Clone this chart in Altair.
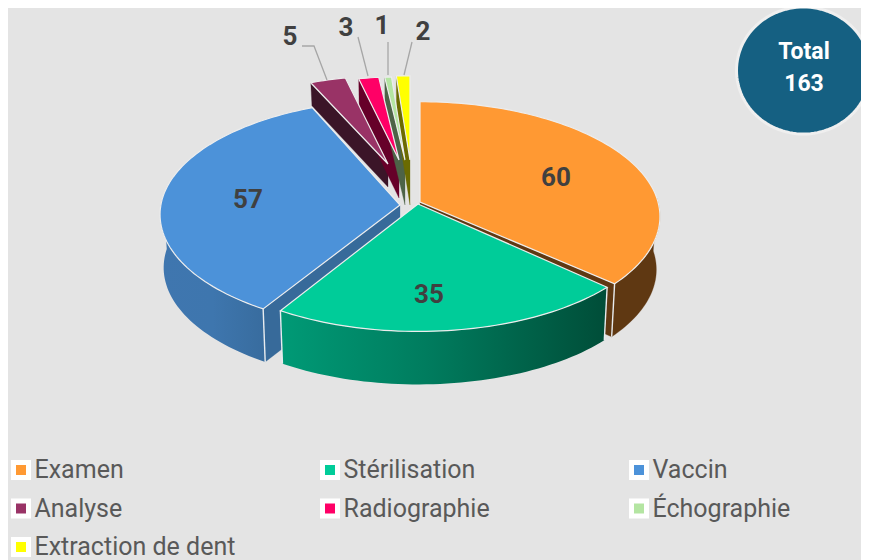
import math
import altair as alt

# ---- data -------------------------------------------------------------
categories = ["Examen", "Stérilisation", "Vaccin", "Analyse", "Radiographie", "Échographie", "Extraction de dent"]
values = [60, 35, 57, 5, 3, 1, 2]
colors = ["#FF9933", "#00CC99", "#4C92D9", "#993366", "#FF0066", "#B4E5A2", "#FFFF00"]
wall_colors = ["#5F3812", None, None, "#3B1528", "#660029", "#4D6347", "#6B6B00"]
total_label = ["Total", "163"]

# ---- layout of the drawing (reference pixels, radius R = 1 unit) -------
R = 238.0
CX, CY = 410.0, 205.0
TILT, PERSP = 113.0 / 238.0, 0.127
centre = [(420, 202), (418, 202), (400, 200), (388, 164), (399, 160), (405, 160), (410, 160)]
tip = [(420, 202), (418, 204), (400, 205), (388, 164), (399, 160), (405, 160), (410, 160)]
scale_k = [1, 1, 1, 0.88, 0.83, 0.83, 0.84]
depth = [53, 53, 53, 23, 38, 45, 45]
nudge = [(0, -1), (1, 1.2), (1, 0), (0, 0), (0, 0), (0, 0), (0, 0)]  # perspective correction, degrees
BOTTOM_SHRINK = 0.985


def un(x, y):
    return [(x - CX) / R, (y - CY) / R]


def rim(i, theta, bottom=False):
    t = math.radians(theta)
    u, v = math.sin(t), -math.cos(t)
    d = 1 - PERSP * v
    k = scale_k[i]
    x, y = R * k * u / d, R * TILT * k * v / d
    ax, ay = centre[i]
    if bottom:
        return un(ax + x * BOTTOM_SHRINK, ay + y + depth[i])
    return un(ax + x, ay + y)


def ap(i, bottom=False):
    ax, ay = tip[i]
    return un(ax, ay + (depth[i] if bottom else 0))


def feature(ring, name=None, kind="Polygon"):
    coords = [ring] if kind == "Polygon" else ring
    return {"type": "Feature", "geometry": {"type": kind, "coordinates": coords}, "properties": {"name": name or ""}}


def sweep(a, b, step=1.5):
    n = max(2, int(abs(b - a) / step) + 1)
    return [a + (b - a) * j / n for j in range(n + 1)]


total = sum(values)
edges = [0.0]
for val in values:
    edges.append(edges[-1] + val / total * 360)
starts = [edges[i] + nudge[i][0] for i in range(len(values))]
ends = [edges[i + 1] + nudge[i][1] for i in range(len(values))]


def top(i):
    ring = [ap(i)] + [rim(i, t) for t in sweep(starts[i], ends[i])] + [ap(i)]
    return feature(ring, categories[i])


def radial(i, theta):
    return feature([ap(i), rim(i, theta), rim(i, theta, True), ap(i, True), ap(i)])


def outer(i, a, b):
    ts = sweep(a, b)
    ring = [rim(i, t) for t in ts] + [rim(i, t, True) for t in reversed(ts)]
    return feature(ring + [ring[0]])


def edge_line(i, theta):
    return feature([rim(i, theta), rim(i, theta, True)], kind="LineString")


BG = "#E4E4E4"


def geo(feats, **mark):
    return alt.Chart(alt.Data(values=feats)).mark_geoshape(**mark).project(
        type="identity", scale=R, translate=[CX - 8, CY - 8])


def grad(stops):
    return alt.Gradient(gradient="linear", stops=[alt.GradientStop(offset=o, color=c) for o, c in stops],
                        x1=0, x2=1, y1=0, y2=0)


layers = []
# small slices' side walls, back to front
for i in (3, 4, 5, 6):
    layers.append(geo([radial(i, starts[i])], fill=wall_colors[i], stroke=wall_colors[i], strokeWidth=0.3))
# Examen
layers.append(geo([outer(0, 88, ends[0]), radial(0, ends[0])], fill=wall_colors[0], stroke=wall_colors[0], strokeWidth=0.3))
# Vaccin
layers.append(geo([radial(2, starts[2])], fill="#376A9A", stroke="#376A9A", strokeWidth=0.3))
layers.append(geo([outer(2, starts[2], 272)],
                  fill=grad([(0, "#3F76AF"), (0.5, "#3E76AE"), (1, "#386C9E")])))
# Stérilisation
layers.append(geo([outer(1, starts[1], ends[1])],
                  fill=grad([(0, "#009A76"), (0.45, "#007C5E"), (1, "#004D38")])))
# corner edges
layers.append(geo([edge_line(0, ends[0]), edge_line(1, starts[1]), edge_line(1, ends[1]), edge_line(2, starts[2])],
                  filled=False, stroke="#E8ECEF", strokeWidth=1.4))

# top faces carry the colour scale and the legend
tops = alt.Chart(alt.Data(values=[top(i) for i in range(len(values))])).mark_geoshape(
    stroke="#EDEDED", strokeWidth=1.2).project(type="identity", scale=R, translate=[CX - 8, CY - 8]).encode(
    color=alt.Color(
        "properties.name:N",
        scale=alt.Scale(domain=categories, range=colors),
        sort=categories,
        legend=alt.Legend(
            title=None, orient="none", legendX=0.5, legendY=449.5, columns=3, direction="horizontal",
            gridAlign="all", columnPadding=77, rowPadding=3.5,
            symbolType="square", symbolSize=225, symbolStrokeColor="#FFFFFF", symbolStrokeWidth=5,
            symbolOpacity=1, labelFont="Roboto", labelFontSize=25, labelColor="#595959",
            labelOffset=1, labelLimit=400, padding=0,
        ),
    )
)
layers.append(tops)

# leader lines
leaders = [
    [(302, 46), (314, 46), (327, 80)],
    [(358, 37), (368, 76)],
    [(388, 42), (388, 75)],
    [(412, 42), (404, 75)],
]
layers.append(geo([feature([un(*p) for p in line], kind="LineString") for line in leaders],
                  filled=False, stroke="#A6A6A6", strokeWidth=1.3))

# value labels
label_pos = [(556, 178), (429, 295), (248, 200), (290, 37), (346, 28), (382, 26), (423, 32)]
label_rows = [{"lon": un(*p)[0], "lat": un(*p)[1], "label": str(v)} for p, v in zip(label_pos, values)]
layers.append(alt.Chart(alt.Data(values=label_rows)).mark_text(
    font="Roboto", fontSize=26, fontWeight="bold", color="#404040", baseline="middle", align="center"
).encode(longitude="lon:Q", latitude="lat:Q", text="label:N").project(
    type="identity", scale=R, translate=[CX - 8, CY - 8]))

# total badge
BX, BY, BRX, BRY = 803.5, 70.5, 67.0, 63.5
badge = [un(BX + BRX * math.cos(math.radians(a)), BY + BRY * math.sin(math.radians(a))) for a in range(0, 361, 3)]
layers.append(geo([feature(badge)], fill="#156082", stroke="#EFEFEF", strokeWidth=3))
badge_rows = [
    {"lon": un(804, 52)[0], "lat": un(804, 52)[1], "label": total_label[0]},
    {"lon": un(804, 84)[0], "lat": un(804, 84)[1], "label": total_label[1]},
]
layers.append(alt.Chart(alt.Data(values=badge_rows)).mark_text(
    font="Roboto", fontSize=23, fontWeight="bold", color="#FFFFFF", baseline="middle", align="center"
).encode(longitude="lon:Q", latitude="lat:Q", text="label:N").project(
    type="identity", scale=R, translate=[CX - 8, CY - 8]))

chart = alt.layer(*layers).properties(
    width=853, height=552, background=BG, padding=0,
    autosize=alt.AutoSizeParams(type="none", contains="padding"),
).configure_view(stroke=None)

chart.save("out.html", embed_options={"renderer": "svg", "actions": False})
